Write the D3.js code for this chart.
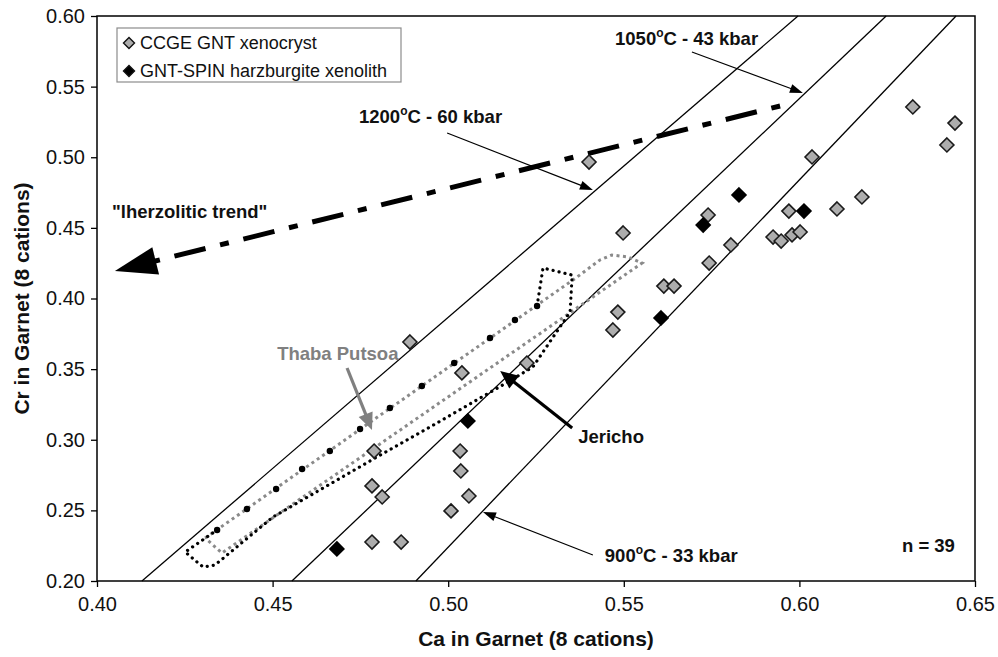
<!DOCTYPE html>
<html>
<head>
<meta charset="utf-8">
<script src="https://cdn.jsdelivr.net/npm/d3@7"></script>
<style>
  body { margin: 0; background: #fff; }
  text { font-family: "Liberation Sans", Arial, Helvetica, sans-serif; }
</style>
</head>
<body>
<svg id="chart" width="998" height="657"></svg>
<script>
// Garnet xenocrysts (Ca, Cr per 8 cations)
const xenocrysts = [
  [0.5401, 0.4966], [0.6323, 0.5356], [0.6443, 0.5242], [0.6420, 0.5087],
  [0.6036, 0.5002], [0.6178, 0.4719], [0.5498, 0.4464], [0.5740, 0.4591],
  [0.5970, 0.4619], [0.6107, 0.4634], [0.5925, 0.4435], [0.5948, 0.4407],
  [0.5979, 0.4450], [0.6002, 0.4471], [0.5805, 0.4379], [0.5743, 0.4251],
  [0.5614, 0.4088], [0.5643, 0.4088], [0.5483, 0.3904], [0.5469, 0.3777],
  [0.4891, 0.3692], [0.5224, 0.3543], [0.5039, 0.3473], [0.4789, 0.2920],
  [0.4783, 0.2673], [0.4812, 0.2595], [0.4783, 0.2276], [0.4866, 0.2276],
  [0.5034, 0.2920], [0.5036, 0.2779], [0.5059, 0.2602], [0.5008, 0.2496]
];
// Garnets from garnet-spinel harzburgite xenoliths
const harzburgites = [
  [0.5828, 0.4733], [0.5726, 0.4520], [0.6013, 0.4619],
  [0.5606, 0.3862], [0.5056, 0.3133], [0.4683, 0.2227]
];

// Isotherm/isobar lines: Ca at Cr = 0.20 and at Cr = 0.60
const isoLabels = ["1200°C - 60 kbar", "1050°C - 43 kbar", "900°C - 33 kbar"];
const isoCaLow  = [0.4128, 0.4555, 0.4908];
const isoCaHigh = [0.5996, 0.6247, 0.6446];

// Thaba Putsoa garnet field outline
const thabaPutsoa = [
  [0.4308, 0.2304], [0.5367, 0.4152], [0.5432, 0.4273], [0.5466, 0.4308],
  [0.5512, 0.4294], [0.5552, 0.4251], [0.4393, 0.2262], [0.4356, 0.2198],
  [0.4308, 0.2304]
];
// Jericho field: points along its upper edge
const jerichoNodes = [
  [0.4342, 0.2361], [0.4427, 0.2510], [0.4510, 0.2651], [0.4584, 0.2793],
  [0.4663, 0.2920], [0.4749, 0.3076], [0.4834, 0.3225], [0.4925, 0.3381],
  [0.5017, 0.3543], [0.5119, 0.3720], [0.5190, 0.3848], [0.5253, 0.3947]
];
// Jericho field: remaining outline
const jerichoOutline = [
  [0.5253, 0.3947], [0.5270, 0.4216], [0.5353, 0.4166], [0.5347, 0.3904],
  [0.5241, 0.3515], [0.5170, 0.3409], [0.4948, 0.3090], [0.4797, 0.2878],
  [0.4501, 0.2453], [0.4336, 0.2113], [0.4302, 0.2099], [0.4251, 0.2205],
  [0.4342, 0.2361]
];

// "lherzolitic trend" arrow: start and tip
const trendStart = [0.5945, 0.5363];
const trendTip   = [0.4051, 0.4195];

// Axis ticks
const xMajor = [0.40, 0.45, 0.50, 0.55, 0.60, 0.65];
const xMinor = [0.425, 0.475, 0.525, 0.575, 0.625];
const yMajor = [0.20, 0.25, 0.30, 0.35, 0.40, 0.45, 0.50, 0.55, 0.60];
const yMinor = [0.225, 0.275, 0.325, 0.375, 0.425, 0.475, 0.525, 0.575];

// Label pointers: [tail, tip]
const pointers = [
  { from: [0.4997, 0.5172], to: [0.5412, 0.4768] },
  { from: [0.5694, 0.5745], to: [0.6010, 0.5455] },
  { from: [0.5412, 0.2184], to: [0.5099, 0.2488] }
];
const jerichoPointer = { from: [0.5353, 0.3083], to: [0.5148, 0.3487] };
const thabaPointer   = { from: [0.4712, 0.3508], to: [0.4783, 0.3069] };

// Label anchors (left end of baseline)
const isoLabelPos = [[0.4746, 0.5242], [0.5475, 0.5795], [0.5446, 0.2135]];

const svg = d3.select("#chart");
const x = d3.scaleLinear().domain([0.40, 0.65]).range([97, 975]);
const y = d3.scaleLinear().domain([0.20, 0.60]).range([581, 16]);
const fmt = d3.format(".2f");

// Axes
const gx = svg.append("g").attr("transform", `translate(0,${y(0.20)})`);
gx.call(d3.axisBottom(x).tickValues(xMinor).tickSize(5).tickFormat(""));
gx.call(d3.axisBottom(x).tickValues(xMajor).tickSize(6).tickPadding(6).tickFormat(fmt));
const gy = svg.append("g").attr("transform", `translate(${x(0.40)},0)`);
gy.call(d3.axisLeft(y).tickValues(yMinor).tickSize(5).tickFormat(""));
gy.call(d3.axisLeft(y).tickValues(yMajor).tickSize(6).tickPadding(6).tickFormat(fmt));
svg.selectAll(".domain").remove();
svg.selectAll(".tick line").attr("stroke", "#000").attr("stroke-width", 1.3);
svg.selectAll(".tick text").attr("font-size", 20).attr("fill", "#111")
  .style("font-family", '"Liberation Sans", Arial, sans-serif');
gx.selectAll(".tick text").attr("dy", "0.9em");

// Frame
svg.append("rect")
  .attr("x", x(0.40)).attr("y", y(0.60))
  .attr("width", x(0.65) - x(0.40)).attr("height", y(0.20) - y(0.60))
  .attr("fill", "none").attr("stroke", "#000").attr("stroke-width", 1.5);

// Axis titles
svg.append("text")
  .attr("x", (x(0.40) + x(0.65)) / 2).attr("y", 646)
  .attr("text-anchor", "middle").attr("font-size", 21).attr("font-weight", "bold")
  .attr("fill", "#111").text("Ca in Garnet (8 cations)");
svg.append("text")
  .attr("transform", `translate(29,${(y(0.20) + y(0.60)) / 2}) rotate(-90)`)
  .attr("text-anchor", "middle").attr("font-size", 21).attr("font-weight", "bold")
  .attr("fill", "#111").text("Cr in Garnet (8 cations)");

// Isotherm lines
svg.append("g").selectAll("line").data(isoCaLow).join("line")
  .attr("x1", d => x(d)).attr("y1", y(0.20))
  .attr("x2", (d, i) => x(isoCaHigh[i])).attr("y2", y(0.60))
  .attr("stroke", "#000").attr("stroke-width", 1.3);

// Arrowhead helper (triangle with tip at (x2,y2))
function head(x1, y1, x2, y2, len, wid) {
  const dx = x2 - x1, dy = y2 - y1, L = Math.hypot(dx, dy);
  const ux = dx / L, uy = dy / L;
  const bx = x2 - ux * len, by = y2 - uy * len;
  return [[x2, y2], [bx - uy * wid / 2, by + ux * wid / 2], [bx + uy * wid / 2, by - ux * wid / 2]];
}
function drawArrow(p, color, width, len, wid, gap) {
  const x1 = x(p.from[0]), y1 = y(p.from[1]), x2 = x(p.to[0]), y2 = y(p.to[1]);
  const L = Math.hypot(x2 - x1, y2 - y1);
  const ex = x2 - (x2 - x1) / L * gap, ey = y2 - (y2 - y1) / L * gap;
  svg.append("line").attr("x1", x1).attr("y1", y1).attr("x2", ex).attr("y2", ey)
    .attr("stroke", color).attr("stroke-width", width);
  svg.append("polygon").attr("points", head(x1, y1, x2, y2, len, wid).join(" "))
    .attr("fill", color);
}

// Lherzolitic trend (dash-dot, heavy)
{
  const x1 = x(trendStart[0]), y1 = y(trendStart[1]), x2 = x(trendTip[0]), y2 = y(trendTip[1]);
  const L = Math.hypot(x2 - x1, y2 - y1);
  const ex = x2 - (x2 - x1) / L * 30, ey = y2 - (y2 - y1) / L * 30;
  svg.append("line").attr("x1", x1).attr("y1", y1).attr("x2", ex).attr("y2", ey)
    .attr("stroke", "#000").attr("stroke-width", 5)
    .attr("stroke-dasharray", "9,15,32,15");
  svg.append("polygon").attr("points", head(x1, y1, x2, y2, 42, 28).join(" ")).attr("fill", "#000");
}

const line = d3.line().x(d => x(d[0])).y(d => y(d[1]));

// Thaba Putsoa field (gray dotted)
svg.append("path").attr("d", line(thabaPutsoa))
  .attr("fill", "none").attr("stroke", "#8a8a8a").attr("stroke-width", 3)
  .attr("stroke-dasharray", "3,3.5");

// Jericho field (black dotted)
svg.append("path").attr("d", line(jerichoOutline))
  .attr("fill", "none").attr("stroke", "#000").attr("stroke-width", 3.2)
  .attr("stroke-linecap", "round").attr("stroke-dasharray", "0.1,6");
svg.append("g").selectAll("circle").data(jerichoNodes).join("circle")
  .attr("cx", d => x(d[0])).attr("cy", d => y(d[1])).attr("r", 3.2).attr("fill", "#000");

// Data points
const diamond = s => `M0,${-s}L${s},0L0,${s}L${-s},0Z`;
svg.append("g").selectAll("path").data(xenocrysts).join("path")
  .attr("d", diamond(7))
  .attr("transform", d => `translate(${x(d[0])},${y(d[1])})`)
  .attr("fill", "#adadad").attr("stroke", "#1a1a1a").attr("stroke-width", 1.6);
svg.append("g").selectAll("path").data(harzburgites).join("path")
  .attr("d", diamond(7))
  .attr("transform", d => `translate(${x(d[0])},${y(d[1])})`)
  .attr("fill", "#000").attr("stroke", "#000").attr("stroke-width", 1.6);

// Isotherm labels and pointers
pointers.forEach(p => drawArrow(p, "#000", 1.2, 13, 9, 10));
isoLabels.forEach((t, i) => {
  const m = t.match(/^(\d+)°(C.*)$/);
  const tx = svg.append("text")
    .attr("x", x(isoLabelPos[i][0])).attr("y", y(isoLabelPos[i][1]))
    .attr("font-size", 18.5).attr("font-weight", "bold").attr("fill", "#111");
  tx.append("tspan").text(m[1]);
  tx.append("tspan").attr("dy", -8).attr("font-size", 12).text("o");
  tx.append("tspan").attr("dy", 8).text(m[2]);
});

// Jericho and Thaba Putsoa pointers and labels
drawArrow(jerichoPointer, "#000", 3.2, 18, 16, 14);
svg.append("text").attr("x", x(0.5370)).attr("y", y(0.2977))
  .attr("font-size", 18.5).attr("font-weight", "bold").attr("fill", "#111").text("Jericho");
drawArrow(thabaPointer, "#808080", 3.2, 17, 15, 13);
svg.append("text").attr("x", x(0.4513)).attr("y", y(0.3565))
  .attr("font-size", 18.5).attr("font-weight", "bold").attr("fill", "#808080").text("Thaba Putsoa");

svg.append("text").attr("x", x(0.4043)).attr("y", y(0.4570))
  .attr("font-size", 18.5).attr("font-weight", "bold").attr("fill", "#111")
  .text("\"lherzolitic trend\"");
svg.append("text").attr("x", x(0.6292)).attr("y", y(0.2205))
  .attr("font-size", 18.5).attr("font-weight", "bold").attr("fill", "#111").text("n = 39");

// Legend
const legend = svg.append("g");
legend.append("rect").attr("x", 117).attr("y", 28).attr("width", 284).attr("height", 54)
  .attr("fill", "#fff").attr("stroke", "#8c8c8c").attr("stroke-width", 1.2);
const legendItems = [
  { label: "CCGE GNT xenocryst", fill: "#adadad" },
  { label: "GNT-SPIN harzburgite xenolith", fill: "#000" }
];
legendItems.forEach((d, i) => {
  const cy = 43 + i * 28;
  legend.append("path").attr("d", diamond(5.5)).attr("transform", `translate(129,${cy})`)
    .attr("fill", d.fill).attr("stroke", "#111").attr("stroke-width", 1.4);
  legend.append("text").attr("x", 140).attr("y", cy + 6).attr("font-size", 18)
    .attr("fill", "#111").text(d.label);
});
</script>
</body>
</html>
